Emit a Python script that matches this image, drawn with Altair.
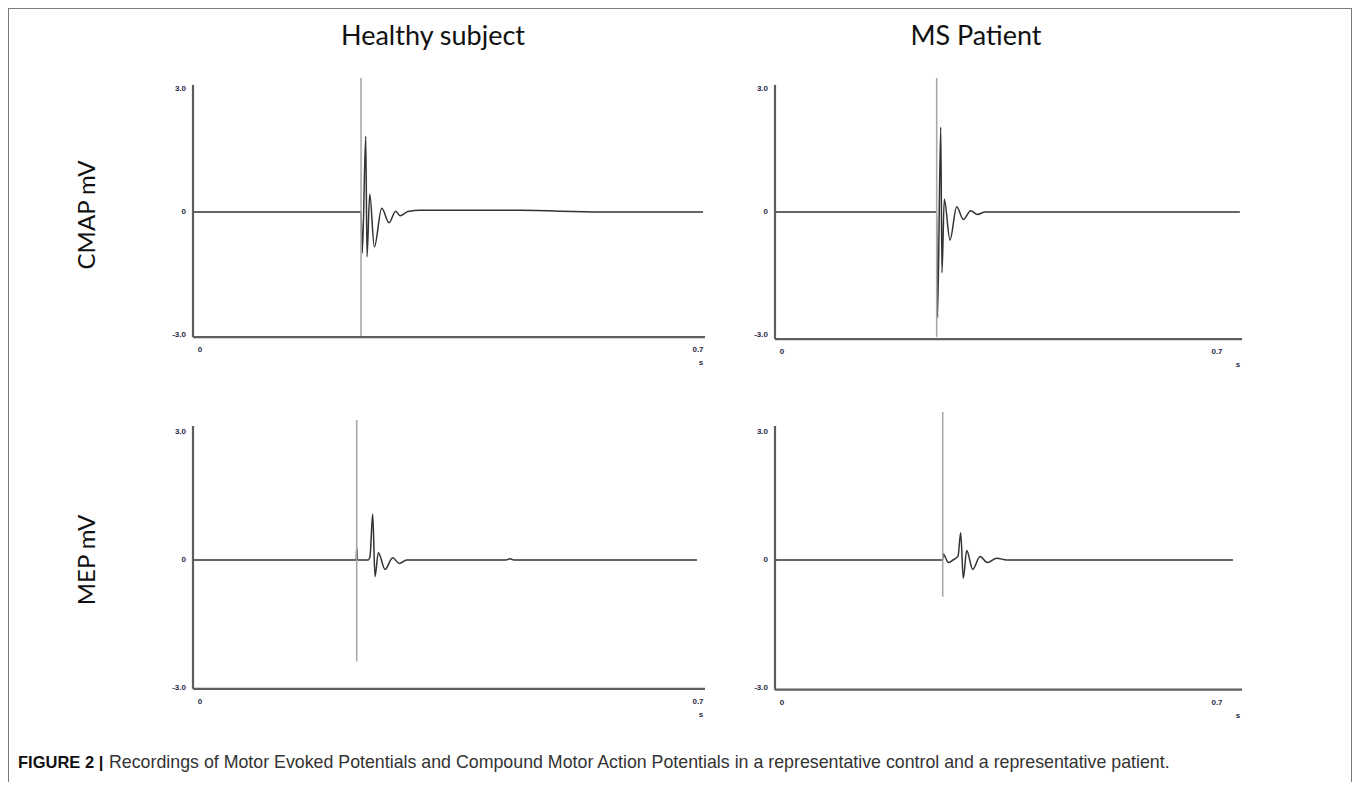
import altair as alt
import pandas as pd

# ---------------- data ----------------
col_titles = ["Healthy subject", "MS Patient"]
row_titles = ["CMAP mV", "MEP mV"]
caption_bold = "FIGURE 2 |"
caption_text = ("Recordings of Motor Evoked Potentials and Compound Motor Action Potentials "
                "in a representative control and a representative patient.")

y_tick_values = [3.0, 0.0, -3.0]
y_tick_labels = ["3.0", "0", "-3.0"]
x_tick_values = [0.0, 0.7]
x_tick_labels = ["0", "0.7"]
x_unit = "s"

# Healthy subject - CMAP (time s, mV)
hc_t = [0.0, 0.2362, 0.2380, 0.2428, 0.2446, 0.2484, 0.2549, 0.2653, 0.2755,
        0.2849, 0.2910, 0.3022, 0.3191, 0.4597, 0.5721, 0.7169]
hc_v = [0.0, 0.0, -1.00, 1.85, -1.09, 0.44, -0.85, 0.09, -0.26,
        0.02, -0.09, 0.01, 0.04, 0.04, 0.0, 0.0]
hc_stim = [0.2362, -3.05, 3.27]

# MS patient - CMAP
mc_t = [0.0, 0.2602, 0.2615, 0.2667, 0.2687, 0.2724, 0.2816, 0.2924, 0.3030,
        0.3149, 0.3256, 0.3380, 0.7480]
mc_v = [0.0, 0.0, -2.58, 2.07, -1.48, 0.31, -0.68, 0.13, -0.18,
        0.03, -0.06, 0.0, 0.0]
mc_stim = [0.2602, -3.05, 3.27]

# Healthy subject - MEP
hm_t = [0.0, 0.2295, 0.2301, 0.2312, 0.2460, 0.2488, 0.2526, 0.2558, 0.2605,
        0.2699, 0.2807, 0.2900, 0.3004, 0.4400, 0.4456, 0.4510, 0.7084]
hm_v = [0.0, 0.0, 0.30, 0.0, 0.0, 0.08, 1.08, -0.39, 0.17,
        -0.22, 0.05, -0.08, 0.0, 0.0, 0.03, 0.0, 0.0]
hm_stim = [0.2301, -2.38, 3.28]

# MS patient - MEP
mm_t = [0.0, 0.2699, 0.2708, 0.2789, 0.2864, 0.2945, 0.2988, 0.3030, 0.3085,
        0.3182, 0.3299, 0.3417, 0.3569, 0.3729, 0.7370]
mm_v = [0.0, 0.0, 0.14, -0.06, 0.0, 0.09, 0.64, -0.43, 0.22,
        -0.22, 0.08, -0.06, 0.04, 0.0, 0.0]
mm_stim = [0.2699, -0.86, 3.47]

# ---------------- style / layout ----------------
W, H = 1344, 774
TRACE = "#333333"
STIM = "#a9a9a9"
AXIS = "#5e5e5e"
LAB = "#1f2a44"
TITLE_FONT = "Lato, Open Sans, sans-serif"


def panel(t, v, stim, xr, yr, x_end, y_lo, y_hi):
    xs = alt.Scale(domain=[0, 0.7], range=xr, nice=False, zero=False)
    ys = alt.Scale(domain=[-3, 3], range=yr, nice=False, zero=False)

    def X(f):
        return alt.X(f, type="quantitative", scale=xs, axis=None)

    def Y(f):
        return alt.Y(f, type="quantitative", scale=ys, axis=None)

    trace = alt.Chart(pd.DataFrame({"t": t, "v": v})).mark_line(
        color=TRACE, strokeWidth=1.5, interpolate="monotone").encode(x=X("t"), y=Y("v"))
    stim_rule = alt.Chart(pd.DataFrame({"t": [stim[0]], "lo": [stim[1]], "hi": [stim[2]]})).mark_rule(
        color=STIM, strokeWidth=1.6).encode(x=X("t"), y=Y("lo"), y2="hi")
    yaxis = alt.Chart(pd.DataFrame({"t": [0.0], "lo": [y_lo], "hi": [y_hi]})).mark_rule(
        color=AXIS, strokeWidth=2.2).encode(x=X("t"), y=Y("lo"), y2="hi")
    xaxis = alt.Chart(pd.DataFrame({"t": [0.0], "t2": [x_end], "v": [y_lo]})).mark_rule(
        color=AXIS, strokeWidth=2.2).encode(x=X("t"), x2="t2", y=Y("v"))
    ylab = alt.Chart(pd.DataFrame({"t": [0.0] * 3, "v": y_tick_values, "lab": y_tick_labels})).mark_text(
        align="right", baseline="middle", dx=-7, font="Liberation Sans", fontSize=8,
        fontWeight="bold", color=LAB).encode(x=X("t"), y=Y("v"), text="lab:N")
    xlab = alt.Chart(pd.DataFrame({"t": x_tick_values, "v": [y_lo] * 2, "lab": x_tick_labels})).mark_text(
        align="center", baseline="middle", dx=7, dy=13, font="Liberation Sans", fontSize=8,
        fontWeight="bold", color=LAB).encode(x=X("t"), y=Y("v"), text="lab:N")
    unit = alt.Chart(pd.DataFrame({"t": [x_end], "v": [y_lo], "lab": [x_unit]})).mark_text(
        align="center", baseline="middle", dx=-4, dy=26, font="Liberation Sans", fontSize=8,
        fontWeight="bold", color=LAB).encode(x=X("t"), y=Y("v"), text="lab:N")
    return alt.layer(trace, stim_rule, yaxis, xaxis, ylab, xlab, unit)


p_hc = panel(hc_t, hc_v, hc_stim, [185, 683], [327, 81], 0.7197, -3.05, 3.1)
p_mc = panel(mc_t, mc_v, mc_stim, [767, 1202], [327, 81], 0.7515, -3.1, 3.1)
p_hm = panel(hm_t, hm_v, hm_stim, [185, 683], [680, 424], 0.7197, -3.02, 3.14)
p_mm = panel(mm_t, mm_v, mm_stim, [767, 1202], [680, 424], 0.7515, -3.04, 3.14)


def label(text, x, y, size, angle=0, font=TITLE_FONT, weight="normal", align="center", color="#111"):
    return alt.Chart(pd.DataFrame({"lab": [text]})).mark_text(
        align=align, baseline="middle", angle=angle, font=font, fontSize=size,
        fontWeight=weight, color=color).encode(x=alt.value(x), y=alt.value(y), text="lab:N")


titles = [
    label(col_titles[0], 425, 29, 27),
    label(col_titles[1], 968, 29, 27),
    label(row_titles[0], 80, 207, 24, angle=270),
    label(row_titles[1], 80, 552, 24, angle=270),
    label(caption_bold, 10, 755, 16.5, font="Liberation Sans", weight="bold", align="left", color="#111"),
    label(caption_text, 101, 755, 17.8, font="Liberation Sans", align="left", color="#333"),
]

frame = alt.Chart(pd.DataFrame({"k": [0]})).mark_rect(
    fillOpacity=0, stroke="#7a7a7a", strokeWidth=2).encode(
    x=alt.value(0), x2=alt.value(W), y=alt.value(0), y2=alt.value(H + 200))

chart = alt.layer(p_hc, p_mc, p_hm, p_mm, *titles, frame).resolve_scale(
    x="independent", y="independent"
).properties(
    width=W, height=H, padding=0, autosize=alt.AutoSizeParams(type="none"),
    background="white"
).configure_view(strokeWidth=0)

chart.save("out.html", embed_options={"renderer": "svg", "actions": False})
